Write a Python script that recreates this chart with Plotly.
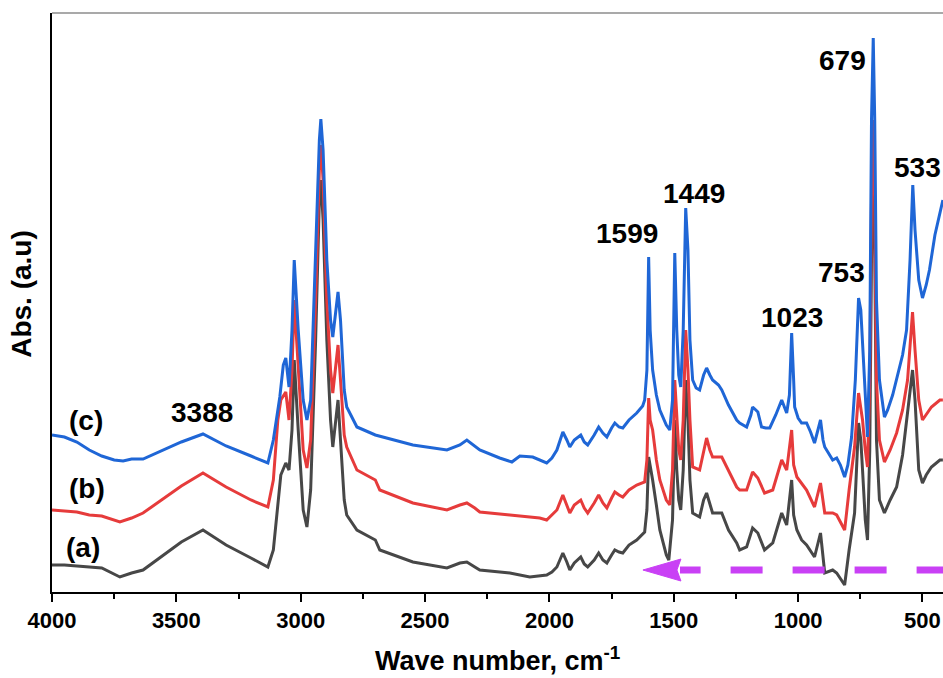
import plotly.graph_objects as go

# ---------------- data (absorbance in arbitrary units) ----------------
wn_c = [4000, 3950, 3900, 3850, 3800, 3750, 3714, 3680, 3634, 3550, 3480, 3393, 3300, 3200, 3132, 3110, 3084, 3070,
        3060, 3047, 3035, 3026, 3010, 2990, 2975, 2960, 2940, 2925, 2919, 2910, 2895, 2880, 2871, 2860, 2850, 2840,
        2825, 2815, 2774, 2700, 2601, 2549, 2412, 2360, 2332, 2300, 2280, 2200, 2151, 2119, 2067, 2011, 1990, 1970,
        1946, 1930, 1918, 1900, 1874, 1860, 1846, 1820, 1802, 1785, 1769, 1750, 1737, 1720, 1705, 1680, 1649, 1625,
        1617, 1608, 1601, 1595, 1585, 1570, 1556, 1530, 1516, 1505, 1496, 1488, 1480, 1472, 1462, 1452, 1443, 1435,
        1424, 1410, 1396, 1380, 1368, 1355, 1344, 1320, 1307, 1280, 1247, 1235, 1207, 1190, 1183, 1170, 1162, 1147,
        1130, 1114, 1090, 1066, 1046, 1035, 1026, 1018, 1014, 1000, 986, 966, 950, 934, 920, 910, 900, 893, 861, 845,
        830, 813, 800, 785, 770, 757, 748, 741, 730, 721, 712, 705, 698, 692, 685, 673, 653, 640, 620, 604, 580, 564,
        550, 539, 530, 515, 500, 485, 472, 450, 418]
abs_c = [157, 155, 150, 142, 136, 132, 131, 133, 133, 142, 150, 158, 146, 136, 129, 152, 195, 227,
         234, 205, 262, 332, 262, 192, 172, 192, 342, 452, 473, 442, 332, 272, 255, 282, 300, 272,
         202, 185, 165, 157, 150, 147, 142, 147, 152, 146, 142, 134, 130, 136, 135, 129, 134, 142,
         160, 152, 145, 152, 157, 150, 147, 157, 165, 159, 155, 164, 169, 165, 164, 172, 179, 186,
         192, 222, 335, 262, 222, 197, 182, 167, 162, 192, 339, 262, 217, 205, 262, 384, 342, 252,
         212, 204, 202, 217, 224, 217, 212, 207, 202, 187, 172, 169, 165, 177, 185, 182, 180, 165,
         164, 164, 177, 192, 179, 197, 259, 212, 185, 174, 169, 169, 160, 149, 162, 172, 152, 145, 132, 134,
         127, 115, 127, 155, 212, 294, 282, 245, 187, 155, 242, 472, 554, 472, 292, 212, 175, 182, 197, 212, 237, 262,
         332, 407, 362, 312, 294, 307, 322, 357, 392]

wn_b = [4000, 3950, 3900, 3850, 3800, 3727, 3680, 3634, 3550, 3480, 3393, 3300, 3200, 3132, 3110, 3092, 3080, 3060,
        3047, 3035, 3026, 3010, 2990, 2975, 2960, 2940, 2925, 2919, 2910, 2895, 2880, 2871, 2860, 2850, 2840, 2825,
        2815, 2774, 2700, 2682, 2549, 2412, 2360, 2332, 2300, 2280, 2159, 2039, 2011, 1990, 1970, 1946, 1930, 1918,
        1900, 1874, 1860, 1846, 1820, 1802, 1785, 1769, 1750, 1737, 1720, 1705, 1680, 1649, 1617, 1608, 1601, 1595,
        1585, 1570, 1556, 1530, 1516, 1505, 1496, 1488, 1480, 1472, 1462, 1452, 1443, 1435, 1424, 1396, 1380, 1368,
        1355, 1344, 1307, 1280, 1247, 1235, 1207, 1183, 1162, 1135, 1102, 1066, 1046, 1026, 1018, 1005, 986, 966,
        934, 910, 893, 861, 845, 813, 795, 773, 757, 748, 741, 730, 721, 712, 705, 698, 692, 685, 673, 653, 630, 604,
        580, 560, 550, 540, 530, 515, 500, 485, 464, 430, 418]
abs_b = [82, 81, 80, 77, 76, 70, 74, 79, 94, 106, 119, 105, 92, 85, 112, 172, 192, 200,
         172, 222, 292, 222, 142, 124, 152, 292, 422, 447, 412, 292, 222, 199, 227, 247, 212, 157,
         145, 122, 112, 102, 89, 82, 87, 89, 84, 80, 77, 74, 72, 77, 82, 97, 87, 79,
         87, 92, 84, 79, 89, 97, 89, 84, 94, 100, 97, 95, 102, 107, 110, 132, 194, 172,
         162, 132, 112, 92, 87, 122, 212, 172, 142, 132, 172, 262, 222, 172, 125, 122, 142, 154,
         142, 135, 135, 122, 105, 102, 102, 120, 114, 99, 102, 132, 122, 162, 127, 115, 109, 102,
         85, 109, 79, 79, 77, 62, 102, 145, 199, 182, 172, 142, 125, 212, 392, 472, 392, 212, 152, 130, 142, 159,
         182, 212, 252, 280, 242, 192, 172, 177, 185, 192, 192]

wn_a = [4000, 3950, 3900, 3850, 3800, 3727, 3680, 3634, 3550, 3480, 3393, 3300, 3200, 3132, 3110, 3092, 3080, 3060,
        3047, 3035, 3026, 3010, 2990, 2975, 2960, 2940, 2925, 2919, 2910, 2895, 2880, 2871, 2860, 2850, 2840, 2825,
        2815, 2774, 2700, 2682, 2549, 2412, 2360, 2332, 2300, 2280, 2159, 2079, 2011, 1990, 1970, 1946, 1930, 1918,
        1900, 1874, 1860, 1846, 1820, 1802, 1785, 1769, 1750, 1737, 1720, 1705, 1680, 1649, 1617, 1608, 1601, 1595,
        1585, 1570, 1556, 1530, 1520, 1505, 1496, 1488, 1480, 1472, 1462, 1452, 1443, 1435, 1424, 1396, 1380, 1368,
        1355, 1344, 1307, 1280, 1247, 1235, 1207, 1183, 1162, 1135, 1102, 1066, 1046, 1026, 1018, 1005, 986, 966,
        934, 910, 893, 861, 845, 813, 795, 773, 757, 748, 741, 730, 721, 712, 705, 698, 692, 685, 673, 653, 630, 604,
        580, 560, 550, 540, 530, 515, 500, 485, 464, 430, 418]
abs_a = [27, 27, 26, 25, 24, 15, 19, 22, 37, 50, 62, 47, 34, 25, 42, 92, 117, 129,
         122, 162, 232, 162, 82, 65, 102, 252, 392, 412, 372, 252, 172, 145, 172, 192, 152, 92,
         77, 62, 52, 42, 30, 24, 29, 30, 25, 22, 19, 15, 17, 20, 25, 39, 30, 22,
         29, 35, 28, 25, 32, 39, 32, 29, 37, 42, 40, 39, 47, 52, 60, 82, 135, 127,
         112, 87, 62, 37, 32, 72, 172, 122, 92, 82, 122, 212, 172, 112, 79, 75, 92, 99,
         87, 79, 79, 62, 49, 42, 45, 64, 59, 42, 49, 79, 67, 112, 77, 62, 52, 47,
         35, 59, 19, 22, 19, 7, 42, 79, 169, 152, 122, 72, 52, 142, 332, 442, 342, 152, 92, 79, 92, 105,
         137, 182, 202, 222, 192, 122, 109, 117, 125, 132, 132]

series_names = ["(a)", "(b)", "(c)"]
series_colors = ["#474747", "#e63b3b", "#1f66d6"]

peak_labels = ["3388", "1599", "1449", "1023", "753", "679", "533"]
peak_label_x = [3397, 1688, 1419, 1025, 824, 820, 522]
peak_label_y = [180, 359, 399, 275, 320, 532, 425]

curve_label_x = [3875, 3859, 3863]
curve_label_y = [45, 104, 172]

x_ticks = [4000, 3500, 3000, 2500, 2000, 1500, 1000, 500]
x_range = [4000, 417.5]
y_range = [0, 579]

# ---------------- figure ----------------
fig = go.Figure()
for wn, ab, name, col in zip([wn_a, wn_b, wn_c], [abs_a, abs_b, abs_c], series_names, series_colors):
    fig.add_trace(go.Scatter(x=wn, y=ab, mode="lines", name=name,
                             line=dict(color=col, width=3), showlegend=False, hoverinfo="skip"))

FONT = "Liberation Sans, Arial, sans-serif"
bold = dict(family=FONT, color="black", weight="bold")

annotations = []
for t, x, y in zip(peak_labels, peak_label_x, peak_label_y):
    annotations.append(dict(x=x, y=y, xref="x", yref="y", text=t, showarrow=False,
                            font=dict(size=28, **bold)))
for t, x, y in zip(series_names, curve_label_x, curve_label_y):
    annotations.append(dict(x=x, y=y, xref="x", yref="y", text=t, showarrow=False,
                            font=dict(size=28, **bold)))
# axis titles
annotations.append(dict(x=0.5, y=-0.116, xref="paper", yref="paper", text="Wave number, cm<sup>-1</sup>",
                        showarrow=False, xanchor="center", yanchor="middle", font=dict(size=27, **bold)))
annotations.append(dict(x=-0.0337, y=0.515, xref="paper", yref="paper", text="Abs. (a.u)", textangle=-90,
                        showarrow=False, xanchor="center", yanchor="middle", font=dict(size=28, **bold)))

arrow_y = 22
arrow_tip = 1624
arrow_base = 1475
magenta = "#c940f5"
shapes = [
    # top frame line
    dict(type="line", xref="paper", yref="paper", x0=0, x1=1, y0=1, y1=1,
         line=dict(color="#8c8c8c", width=1.5)),
    # dashed shaft of the arrow
    dict(type="line", xref="x", yref="y", x0=395, x1=arrow_base, y0=arrow_y, y1=arrow_y,
         line=dict(color=magenta, width=7, dash="32px,30px")),
    # arrow head
    dict(type="path", xref="x", yref="y", xsizemode="pixel", ysizemode="pixel",
         xanchor=arrow_tip, yanchor=arrow_y, path="M0,0 L38,11 L34,0 L38,-11 Z",
         fillcolor=magenta, line=dict(color=magenta, width=1)),
]

fig.update_layout(
    width=943, height=678,
    margin=dict(l=52, r=0, t=13, b=86),
    paper_bgcolor="white", plot_bgcolor="white",
    annotations=annotations, shapes=shapes,
    xaxis=dict(range=x_range, tickvals=x_ticks, ticks="outside", ticklen=8, tickwidth=2,
               tickcolor="black", showline=True, linecolor="black", linewidth=2,
               showgrid=False, zeroline=False,
               tickfont=dict(size=22, **bold),
               minor=dict(dtick=250, ticks="outside", ticklen=5, tickwidth=2, tickcolor="black")),
    yaxis=dict(range=y_range, showticklabels=False, ticks="", showline=True, linecolor="black",
               linewidth=2, showgrid=False, zeroline=False),
)

# remove the page's default body margin so the figure fills the 943x678 window exactly
fig.write_html("out.html", config={"displayModeBar": False},
               post_script="document.body.style.margin='0';document.body.style.overflow='hidden';")
